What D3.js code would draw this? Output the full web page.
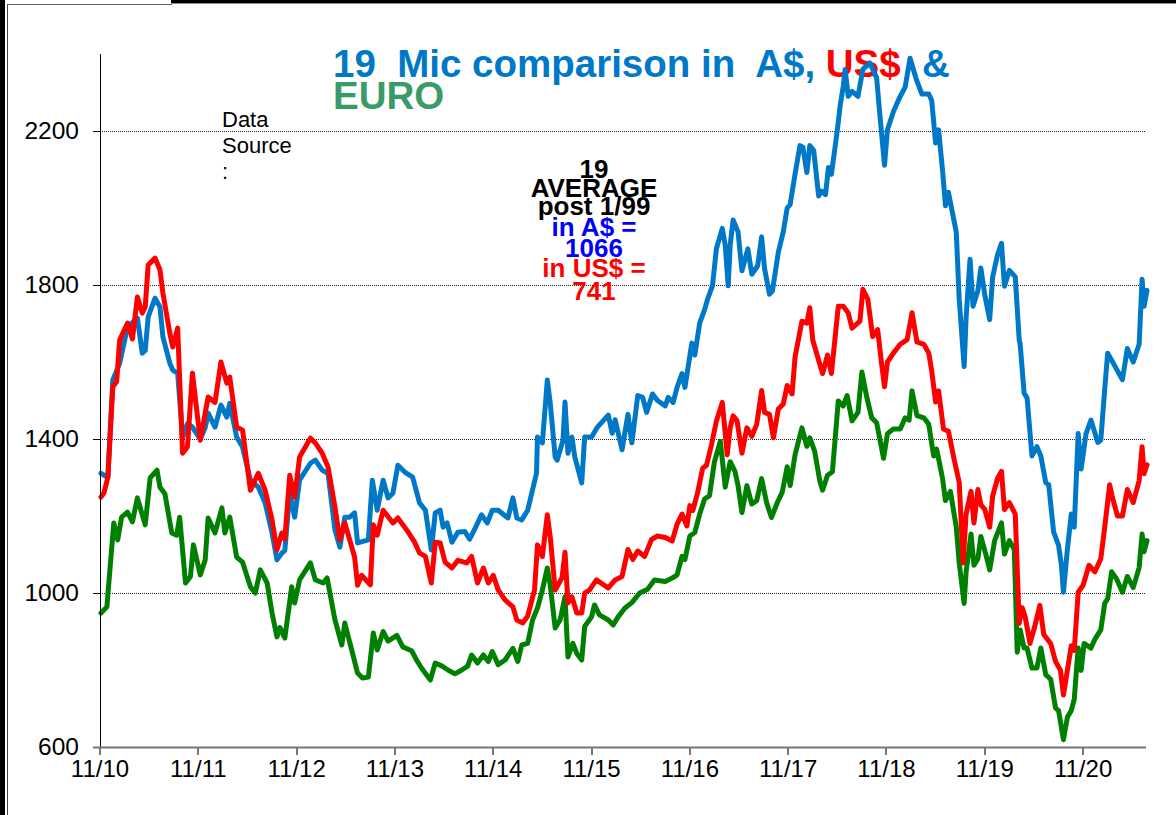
<!DOCTYPE html>
<html>
<head>
<meta charset="utf-8">
<script src="https://cdn.jsdelivr.net/npm/d3@7"></script>
<style>
	body { margin: 0; background: #fff; }
	svg { display: block; font-family: "Liberation Sans", Arial, sans-serif; }
	.pre { white-space: pre; }
</style>
</head>
<body>
<svg width="1176" height="815"></svg>
<script>
// 19 micron wool price, A$ vs US$ vs EURO, weekly-ish readings (decimal year, value)

var audSeries = [[2010.84,1311],[2010.91,1300],[2010.96,1553],[2011.03,1597],[2011.11,1691],[2011.21,1714],[2011.26,1623],[2011.29,1630],[2011.32,1717],[2011.39,1766],[2011.44,1743],[2011.47,1665],[2011.54,1597],[2011.57,1579],[2011.62,1571],[2011.67,1405],[2011.72,1440],[2011.77,1431],[2011.85,1400],[2011.90,1430],[2011.93,1467],[2012.00,1431],[2012.06,1488],[2012.12,1457],[2012.15,1493],[2012.22,1405],[2012.28,1379],[2012.36,1293],[2012.44,1275],[2012.51,1234],[2012.58,1156],[2012.63,1086],[2012.68,1104],[2012.71,1110],[2012.76,1260],[2012.81,1197],[2012.86,1293],[2012.97,1337],[2013.02,1345],[2013.09,1319],[2013.15,1310],[2013.22,1164],[2013.27,1119],[2013.32,1197],[2013.37,1197],[2013.42,1208],[2013.45,1130],[2013.56,1138],[2013.60,1293],[2013.65,1215],[2013.71,1293],[2013.76,1247],[2013.81,1260],[2013.86,1332],[2013.93,1314],[2014.01,1301],[2014.08,1234],[2014.14,1215],[2014.20,1112],[2014.24,1208],[2014.29,1215],[2014.32,1171],[2014.36,1182],[2014.41,1132],[2014.47,1158],[2014.54,1160],[2014.59,1140],[2014.64,1165],[2014.71,1203],[2014.77,1182],[2014.82,1215],[2014.88,1215],[2014.98,1195],[2015.03,1247],[2015.07,1195],[2015.12,1190],[2015.18,1215],[2015.27,1311],[2015.28,1405],[2015.33,1390],[2015.38,1553],[2015.41,1493],[2015.46,1353],[2015.48,1345],[2015.54,1397],[2015.56,1496],[2015.59,1363],[2015.63,1405],[2015.66,1353],[2015.73,1286],[2015.76,1405],[2015.83,1405],[2015.89,1431],[2016.00,1462],[2016.04,1415],[2016.07,1450],[2016.14,1372],[2016.20,1464],[2016.24,1390],[2016.30,1513],[2016.35,1508],[2016.39,1469],[2016.45,1517],[2016.50,1500],[2016.58,1486],[2016.61,1508],[2016.66,1495],[2016.70,1534],[2016.75,1570],[2016.78,1534],[2016.85,1649],[2016.88,1618],[2016.93,1701],[2016.98,1736],[2017.01,1763],[2017.06,1798],[2017.10,1894],[2017.16,1947],[2017.19,1903],[2017.22,1798],[2017.24,1903],[2017.27,1969],[2017.32,1938],[2017.36,1837],[2017.42,1894],[2017.46,1828],[2017.52,1850],[2017.56,1925],[2017.59,1842],[2017.64,1776],[2017.67,1785],[2017.73,1885],[2017.78,1938],[2017.82,2000],[2017.85,2009],[2017.90,2088],[2017.95,2162],[2017.98,2158],[2018.02,2092],[2018.05,2162],[2018.09,2149],[2018.14,2031],[2018.17,2044],[2018.21,2035],[2018.24,2105],[2018.27,2088],[2018.33,2202],[2018.36,2268],[2018.39,2316],[2018.41,2360],[2018.44,2290],[2018.48,2303],[2018.54,2290],[2018.59,2360],[2018.66,2377],[2018.73,2338],[2018.76,2250],[2018.81,2111],[2018.84,2203],[2018.90,2250],[2018.96,2285],[2019.02,2314],[2019.07,2389],[2019.13,2337],[2019.19,2296],[2019.26,2296],[2019.29,2279],[2019.33,2169],[2019.36,2203],[2019.40,2099],[2019.43,2006],[2019.46,2041],[2019.54,1937],[2019.57,1762],[2019.62,1588],[2019.64,1716],[2019.68,1867],[2019.71,1745],[2019.76,1786],[2019.79,1844],[2019.83,1774],[2019.88,1710],[2019.91,1821],[2019.96,1879],[2020.00,1908],[2020.03,1797],[2020.08,1838],[2020.14,1821],[2020.18,1658],[2020.19,1646],[2020.23,1519],[2020.26,1507],[2020.31,1356],[2020.36,1380],[2020.40,1356],[2020.45,1287],[2020.48,1281],[2020.53,1159],[2020.58,1124],[2020.61,1072],[2020.63,1002],[2020.67,1113],[2020.71,1205],[2020.74,1171],[2020.78,1414],[2020.81,1322],[2020.86,1414],[2020.91,1449],[2020.98,1391],[2021.01,1397],[2021.05,1530],[2021.08,1623],[2021.13,1600],[2021.18,1577],[2021.23,1554],[2021.28,1635],[2021.34,1600],[2021.40,1646],[2021.43,1815],[2021.45,1745],[2021.48,1786]];

var usdSeries = [[2010.84,1249],[2010.87,1260],[2010.91,1300],[2010.96,1535],[2011.00,1550],[2011.03,1657],[2011.11,1701],[2011.16,1660],[2011.21,1769],[2011.26,1727],[2011.29,1743],[2011.32,1852],[2011.39,1870],[2011.44,1839],[2011.47,1779],[2011.54,1675],[2011.57,1639],[2011.62,1688],[2011.67,1363],[2011.72,1380],[2011.77,1571],[2011.85,1397],[2011.90,1467],[2011.93,1509],[2012.00,1495],[2012.06,1600],[2012.12,1545],[2012.15,1561],[2012.22,1431],[2012.28,1423],[2012.36,1267],[2012.44,1311],[2012.51,1267],[2012.58,1190],[2012.63,1112],[2012.68,1156],[2012.71,1140],[2012.76,1306],[2012.81,1249],[2012.86,1353],[2012.97,1402],[2013.02,1390],[2013.09,1363],[2013.15,1327],[2013.22,1223],[2013.27,1138],[2013.32,1182],[2013.37,1138],[2013.42,1093],[2013.45,1020],[2013.49,1046],[2013.58,1021],[2013.61,1177],[2013.65,1150],[2013.71,1215],[2013.81,1182],[2013.86,1195],[2013.96,1160],[2014.03,1132],[2014.08,1104],[2014.14,1095],[2014.20,1026],[2014.24,1132],[2014.29,1130],[2014.34,1080],[2014.41,1065],[2014.47,1085],[2014.56,1078],[2014.61,1095],[2014.67,1026],[2014.73,1065],[2014.78,1026],[2014.83,1046],[2014.88,1008],[2014.95,982],[2015.03,964],[2015.07,930],[2015.13,922],[2015.18,940],[2015.25,1008],[2015.28,1125],[2015.33,1095],[2015.38,1203],[2015.41,1145],[2015.46,1008],[2015.53,1040],[2015.56,1106],[2015.59,974],[2015.63,990],[2015.68,948],[2015.73,948],[2015.76,1000],[2015.81,1008],[2015.88,1034],[2016.00,1013],[2016.07,1034],[2016.14,1043],[2016.20,1113],[2016.25,1087],[2016.30,1109],[2016.37,1095],[2016.44,1139],[2016.50,1148],[2016.58,1144],[2016.65,1135],[2016.70,1179],[2016.75,1205],[2016.80,1174],[2016.83,1227],[2016.86,1214],[2016.91,1262],[2016.96,1324],[2017.00,1332],[2017.05,1385],[2017.10,1447],[2017.16,1495],[2017.21,1359],[2017.24,1429],[2017.27,1460],[2017.31,1447],[2017.36,1363],[2017.41,1429],[2017.46,1407],[2017.51,1438],[2017.56,1526],[2017.59,1469],[2017.64,1464],[2017.68,1403],[2017.73,1478],[2017.78,1491],[2017.82,1539],[2017.87,1517],[2017.90,1613],[2017.97,1706],[2018.02,1701],[2018.05,1741],[2018.08,1657],[2018.13,1613],[2018.18,1570],[2018.23,1618],[2018.27,1570],[2018.34,1745],[2018.39,1745],[2018.44,1728],[2018.48,1688],[2018.56,1706],[2018.59,1789],[2018.64,1763],[2018.69,1666],[2018.74,1684],[2018.78,1596],[2018.81,1536],[2018.84,1600],[2018.90,1623],[2018.97,1646],[2019.04,1658],[2019.09,1728],[2019.14,1652],[2019.21,1646],[2019.26,1623],[2019.29,1577],[2019.33,1496],[2019.36,1525],[2019.41,1426],[2019.46,1420],[2019.52,1345],[2019.57,1287],[2019.61,1078],[2019.64,1205],[2019.69,1264],[2019.72,1182],[2019.76,1269],[2019.79,1229],[2019.83,1217],[2019.88,1171],[2019.91,1252],[2019.96,1298],[2020.00,1316],[2020.03,1217],[2020.08,1235],[2020.14,1205],[2020.18,921],[2020.21,962],[2020.24,939],[2020.29,869],[2020.34,915],[2020.39,968],[2020.43,892],[2020.50,869],[2020.55,822],[2020.60,799],[2020.63,735],[2020.67,799],[2020.71,863],[2020.74,851],[2020.78,1002],[2020.83,1020],[2020.89,1072],[2020.95,1055],[2021.01,1089],[2021.05,1171],[2021.10,1281],[2021.13,1246],[2021.18,1200],[2021.23,1200],[2021.28,1269],[2021.34,1235],[2021.40,1292],[2021.43,1380],[2021.45,1310],[2021.48,1333]];

var eurSeries = [[2010.84,948],[2010.90,964],[2010.97,1182],[2011.01,1138],[2011.05,1197],[2011.11,1210],[2011.16,1185],[2011.21,1247],[2011.29,1177],[2011.34,1299],[2011.41,1319],[2011.44,1275],[2011.49,1258],[2011.56,1156],[2011.61,1150],[2011.64,1197],[2011.70,1026],[2011.75,1043],[2011.78,1125],[2011.85,1047],[2011.90,1086],[2011.93,1195],[2012.00,1156],[2012.07,1221],[2012.10,1156],[2012.15,1197],[2012.22,1093],[2012.28,1080],[2012.36,1016],[2012.41,1000],[2012.46,1060],[2012.53,1026],[2012.58,948],[2012.63,886],[2012.66,910],[2012.71,883],[2012.78,1016],[2012.81,974],[2012.86,1034],[2012.97,1078],[2013.02,1034],[2013.10,1026],[2013.14,1039],[2013.22,930],[2013.29,865],[2013.32,922],[2013.39,852],[2013.45,792],[2013.50,779],[2013.56,782],[2013.61,896],[2013.65,852],[2013.71,900],[2013.76,875],[2013.85,890],[2013.91,860],[2014.00,850],[2014.05,826],[2014.10,805],[2014.19,774],[2014.24,818],[2014.31,810],[2014.37,800],[2014.44,790],[2014.51,800],[2014.57,810],[2014.61,839],[2014.67,818],[2014.73,839],[2014.78,822],[2014.82,848],[2014.88,814],[2014.95,826],[2015.03,856],[2015.08,822],[2015.12,865],[2015.18,869],[2015.23,930],[2015.28,961],[2015.33,1008],[2015.38,1065],[2015.41,1020],[2015.46,909],[2015.51,930],[2015.56,990],[2015.59,834],[2015.64,869],[2015.68,843],[2015.73,826],[2015.76,913],[2015.83,938],[2015.86,969],[2015.91,943],[2016.00,930],[2016.05,917],[2016.10,938],[2016.17,961],[2016.24,975],[2016.32,1000],[2016.40,1010],[2016.47,1034],[2016.58,1030],[2016.66,1040],[2016.70,1047],[2016.75,1095],[2016.78,1087],[2016.83,1148],[2016.88,1157],[2016.93,1205],[2016.98,1244],[2017.03,1253],[2017.08,1341],[2017.14,1394],[2017.19,1275],[2017.24,1341],[2017.29,1315],[2017.32,1279],[2017.36,1209],[2017.41,1279],[2017.46,1231],[2017.51,1240],[2017.56,1297],[2017.61,1235],[2017.66,1196],[2017.72,1235],[2017.77,1262],[2017.82,1328],[2017.85,1279],[2017.90,1359],[2017.97,1429],[2018.02,1381],[2018.05,1403],[2018.10,1368],[2018.15,1293],[2018.18,1267],[2018.23,1306],[2018.28,1315],[2018.34,1499],[2018.39,1486],[2018.43,1513],[2018.48,1447],[2018.54,1469],[2018.58,1574],[2018.63,1508],[2018.68,1455],[2018.73,1442],[2018.76,1403],[2018.80,1350],[2018.84,1414],[2018.90,1426],[2018.97,1426],[2019.02,1455],[2019.06,1449],[2019.09,1525],[2019.14,1461],[2019.21,1455],[2019.26,1438],[2019.31,1356],[2019.34,1374],[2019.40,1298],[2019.43,1240],[2019.48,1264],[2019.54,1171],[2019.57,1078],[2019.62,973],[2019.64,1055],[2019.69,1153],[2019.72,1072],[2019.76,1089],[2019.79,1147],[2019.84,1101],[2019.88,1060],[2019.93,1136],[2020.00,1182],[2020.03,1101],[2020.08,1136],[2020.13,1113],[2020.16,846],[2020.19,904],[2020.23,857],[2020.26,857],[2020.31,805],[2020.36,805],[2020.40,857],[2020.45,788],[2020.50,776],[2020.55,701],[2020.58,695],[2020.63,619],[2020.67,677],[2020.71,695],[2020.74,724],[2020.78,857],[2020.81,799],[2020.84,869],[2020.91,857],[2020.95,880],[2021.01,904],[2021.05,973],[2021.08,985],[2021.12,1055],[2021.17,1037],[2021.23,1002],[2021.28,1043],[2021.34,1014],[2021.40,1066],[2021.43,1153],[2021.45,1107],[2021.48,1136]];

// x ticks sit on each November
var xTickYears = [2010.83,2011.83,2012.83,2013.83,2014.83,2015.83,2016.83,2017.83,2018.83,2019.83,2020.83];
var xTickLabels = ["11/10","11/11","11/12","11/13","11/14","11/15","11/16","11/17","11/18","11/19","11/20"];
var yTicks = [600,1000,1400,1800,2200];

var avgLines = [
	{text: "19", color: "#000"},
	{text: "AVERAGE", color: "#000"},
	{text: "post 1/99", color: "#000"},
	{text: "in A$ =", color: "#0000ff"},
	{text: "1066", color: "#0000ff"},
	{text: "in US$ =", color: "#ff0000"},
	{text: "741", color: "#ff0000"}
];

function draw(){
	var svg = d3.select("svg");
	var left = 100, right = 1146, top = 54, bottom = 747;

	svg.append("rect").attr("width", 1176).attr("height", 815).attr("fill", "#fff");

	// window frame bits
	svg.append("rect").attr("x", 0).attr("y", 0).attr("width", 5).attr("height", 815).attr("fill", "#000");
	svg.append("line").attr("x1", 7.5).attr("x2", 7.5).attr("y1", 4).attr("y2", 815).attr("stroke", "#444");
	svg.append("line").attr("x1", 7).attr("x2", 171).attr("y1", 4.5).attr("y2", 4.5).attr("stroke", "#666");
	svg.append("line").attr("x1", 171.5).attr("x2", 171.5).attr("y1", 0).attr("y2", 5).attr("stroke", "#666");
	svg.append("rect").attr("x", 171).attr("y", 0).attr("width", 1005).attr("height", 3).attr("fill", "#000");
	svg.append("line").attr("x1", 171).attr("x2", 1176).attr("y1", 3.5).attr("y2", 3.5).attr("stroke", "#888");

	var x = d3.scaleLinear().domain([2010.83, 2021.48]).range([left, right + 1]);
	var y = d3.scaleLinear().domain([600, 2400]).range([bottom, top]);

	// gridlines
	svg.append("g")
		.selectAll("line")
		.data(yTicks.filter(v => v > 600))
		.enter().append("line")
		.attr("x1", left).attr("x2", right)
		.attr("y1", v => Math.round(y(v)) + 0.5)
		.attr("y2", v => Math.round(y(v)) + 0.5)
		.attr("stroke", "#222")
		.attr("stroke-dasharray", "1,1");

	// title goes under the lines
	var title = svg.append("text")
		.attr("class", "pre")
		.attr("x", 333).attr("y", 77)
		.attr("font-size", 38.5).attr("font-weight", "bold")
		.attr("fill", "#0078c8");
	title.append("tspan").text("19  Mic comparison in  A$, ");
	title.append("tspan").attr("fill", "#ff0000").text("US$");
	title.append("tspan").text("  &");
	svg.append("text")
		.attr("x", 333).attr("y", 109)
		.attr("font-size", 38.5).attr("font-weight", "bold")
		.attr("fill", "#3a9a68")
		.text("EURO");

	// data source note
	svg.append("g").selectAll("text")
		.data(["Data", "Source", ":"])
		.enter().append("text")
		.attr("x", 222)
		.attr("y", (d, i) => 127 + i * 26)
		.attr("font-size", 22)
		.text(d => d);

	// average block
	var avgY = [178, 197, 215, 236, 257, 277, 300];
	svg.append("g").selectAll("text")
		.data(avgLines)
		.enter().append("text")
		.attr("x", 594)
		.attr("y", (d, i) => avgY[i])
		.attr("text-anchor", "middle")
		.attr("font-size", 26).attr("font-weight", "bold")
		.attr("fill", d => d.color)
		.text(d => d.text);

	// series
	var line = d3.line().x(d => x(d[0])).y(d => y(d[1]));
	var series = [
		{data: audSeries, color: "#0078c8"},
		{data: eurSeries, color: "#008000"},
		{data: usdSeries, color: "#ff0000"}
	];
	svg.append("g").selectAll("path")
		.data(series)
		.enter().append("path")
		.attr("d", s => line(s.data))
		.attr("fill", "none")
		.attr("stroke", s => s.color)
		.attr("stroke-width", 5)
		.attr("stroke-linejoin", "round")
		.attr("stroke-linecap", "round");

	// y axis
	svg.append("line")
		.attr("x1", left + 0.5).attr("x2", left + 0.5)
		.attr("y1", top).attr("y2", bottom)
		.attr("stroke", "#000");
	var yAxis = svg.append("g");
	yAxis.selectAll("line")
		.data(yTicks)
		.enter().append("line")
		.attr("x1", 93).attr("x2", left)
		.attr("y1", v => Math.round(y(v)) + 0.5)
		.attr("y2", v => Math.round(y(v)) + 0.5)
		.attr("stroke", "#000");
	yAxis.selectAll("text")
		.data(yTicks)
		.enter().append("text")
		.attr("x", 79)
		.attr("y", v => y(v) + 8)
		.attr("text-anchor", "end")
		.attr("font-size", 24.5)
		.text(v => v);

	// x axis
	svg.append("line")
		.attr("x1", 93).attr("x2", right)
		.attr("y1", bottom + 0.5).attr("y2", bottom + 0.5)
		.attr("stroke", "#777").attr("stroke-width", 2);
	var xAxis = svg.append("g");
	xAxis.selectAll("line")
		.data(xTickYears)
		.enter().append("line")
		.attr("x1", t => Math.round(x(t)))
		.attr("x2", t => Math.round(x(t)))
		.attr("y1", bottom).attr("y2", bottom + 8)
		.attr("stroke", "#777").attr("stroke-width", 2);
	xAxis.selectAll("text")
		.data(xTickYears)
		.enter().append("text")
		.attr("x", t => x(t))
		.attr("y", 777)
		.attr("text-anchor", "middle")
		.attr("font-size", 24)
		.text((t, i) => xTickLabels[i]);
}

draw();
</script>
</body>
</html>
